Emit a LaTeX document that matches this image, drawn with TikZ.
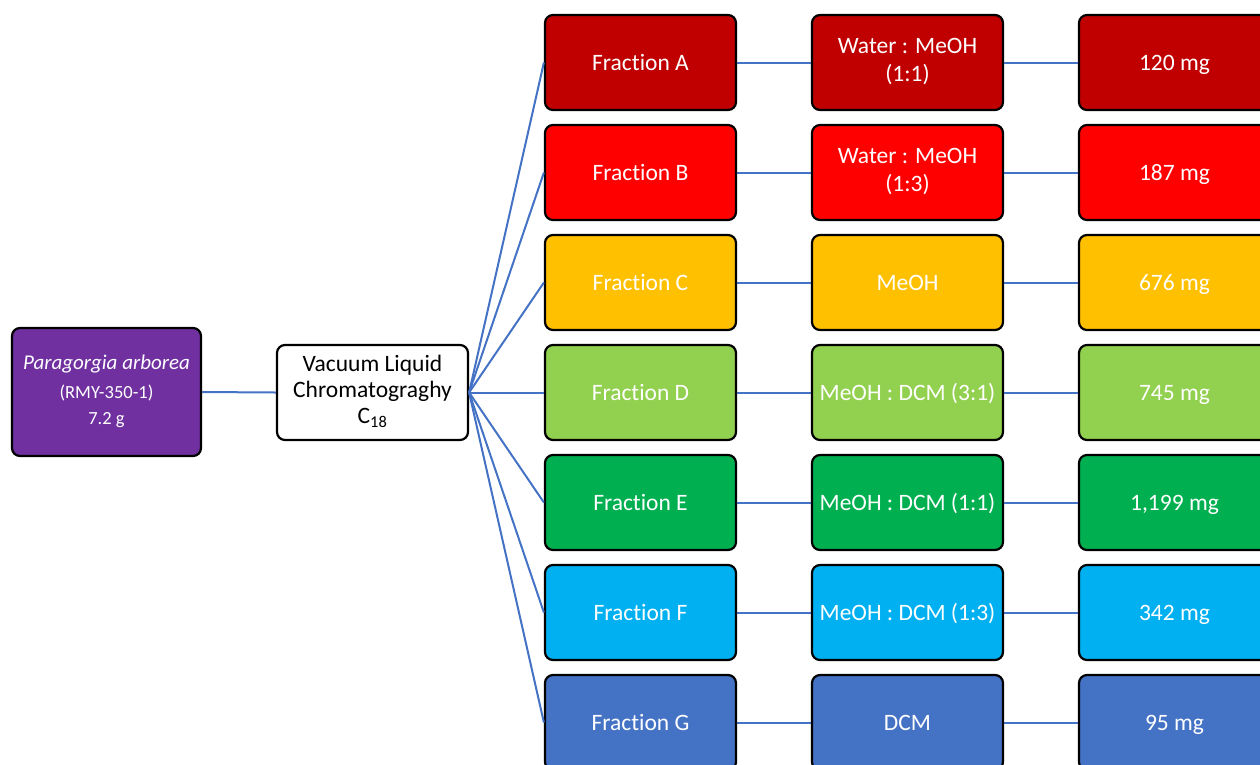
\documentclass[tikz,border=0pt]{standalone}
\usepackage{fontspec}
\setmainfont{Carlito}[Ligatures={NoCommon}]
\definecolor{cA}{HTML}{C00000}
\definecolor{cB}{HTML}{FF0000}
\definecolor{cC}{HTML}{FFC000}
\definecolor{cD}{HTML}{92D050}
\definecolor{cE}{HTML}{00B050}
\definecolor{cF}{HTML}{00B0F0}
\definecolor{cG}{HTML}{4472C4}
\definecolor{cP}{HTML}{7030A0}
\definecolor{link}{HTML}{4472C4}
\newcommand\boxstrut{\rule[-5.5pt]{0pt}{26pt}}
\begin{document}
\begin{tikzpicture}[x=1pt,y=-1pt,
  box/.style={draw=black, line width=2.2pt, rounded corners=8pt, minimum width=191pt, minimum height=95pt, inner sep=0pt, text=white, align=center, font=\fontsize{23.5}{26}\selectfont, execute at begin node=\boxstrut, execute at end node=\boxstrut},
  conn/.style={draw=link, line width=2pt}]
\useasboundingbox (0,0) rectangle (1260,764);
\node[box, fill=cP, minimum width=189pt, minimum height=128pt, execute at begin node={}, execute at end node={}] (src) at (106.5,392) {{\fontsize{21}{30}\selectfont\itshape Paragorgia arborea}\\[3pt]{\fontsize{18.5}{28}\selectfont (RMY-350-1)}\\[0pt]{\fontsize{18.5}{28}\selectfont 7.2 g}};
\node[box, fill=white, text=black] (vlc) at (372.5,392.5) {Vacuum Liquid\\Chromatograghy\\C\textsubscript{18}};
\foreach \n/\y/\c/\f/\s/\m in {a/62.5/cA/Fraction A/{Water : MeOH\\[2pt](1:1)}/120 mg,
  b/172.5/cB/Fraction B/{Water : MeOH\\[2pt](1:3)}/187 mg,
  c/282.5/cC/Fraction C/MeOH/676 mg,
  d/392.5/cD/Fraction D/{MeOH : DCM (3:1)}/745 mg,
  e/502.5/cE/Fraction E/{MeOH : DCM (1:1)}/{1,199 mg},
  f/612.5/cF/Fraction F/{MeOH : DCM (1:3)}/342 mg,
  g/722.5/cG/Fraction G/DCM/95 mg}{
  \node[box, fill=\c] (f\n) at (640.5,\y) {\f};
  \node[box, fill=\c] (s\n) at (907.5,\y) {\s};
  \node[box, fill=\c] (m\n) at (1174.5,\y) {\m};
  \draw[conn] (vlc.east) -- (f\n.west);
  \draw[conn] (f\n.east) -- (s\n.west);
  \draw[conn] (s\n.east) -- (m\n.west);
}
\draw[conn] (src.east) -- (vlc.west);
\end{tikzpicture}
\end{document}
